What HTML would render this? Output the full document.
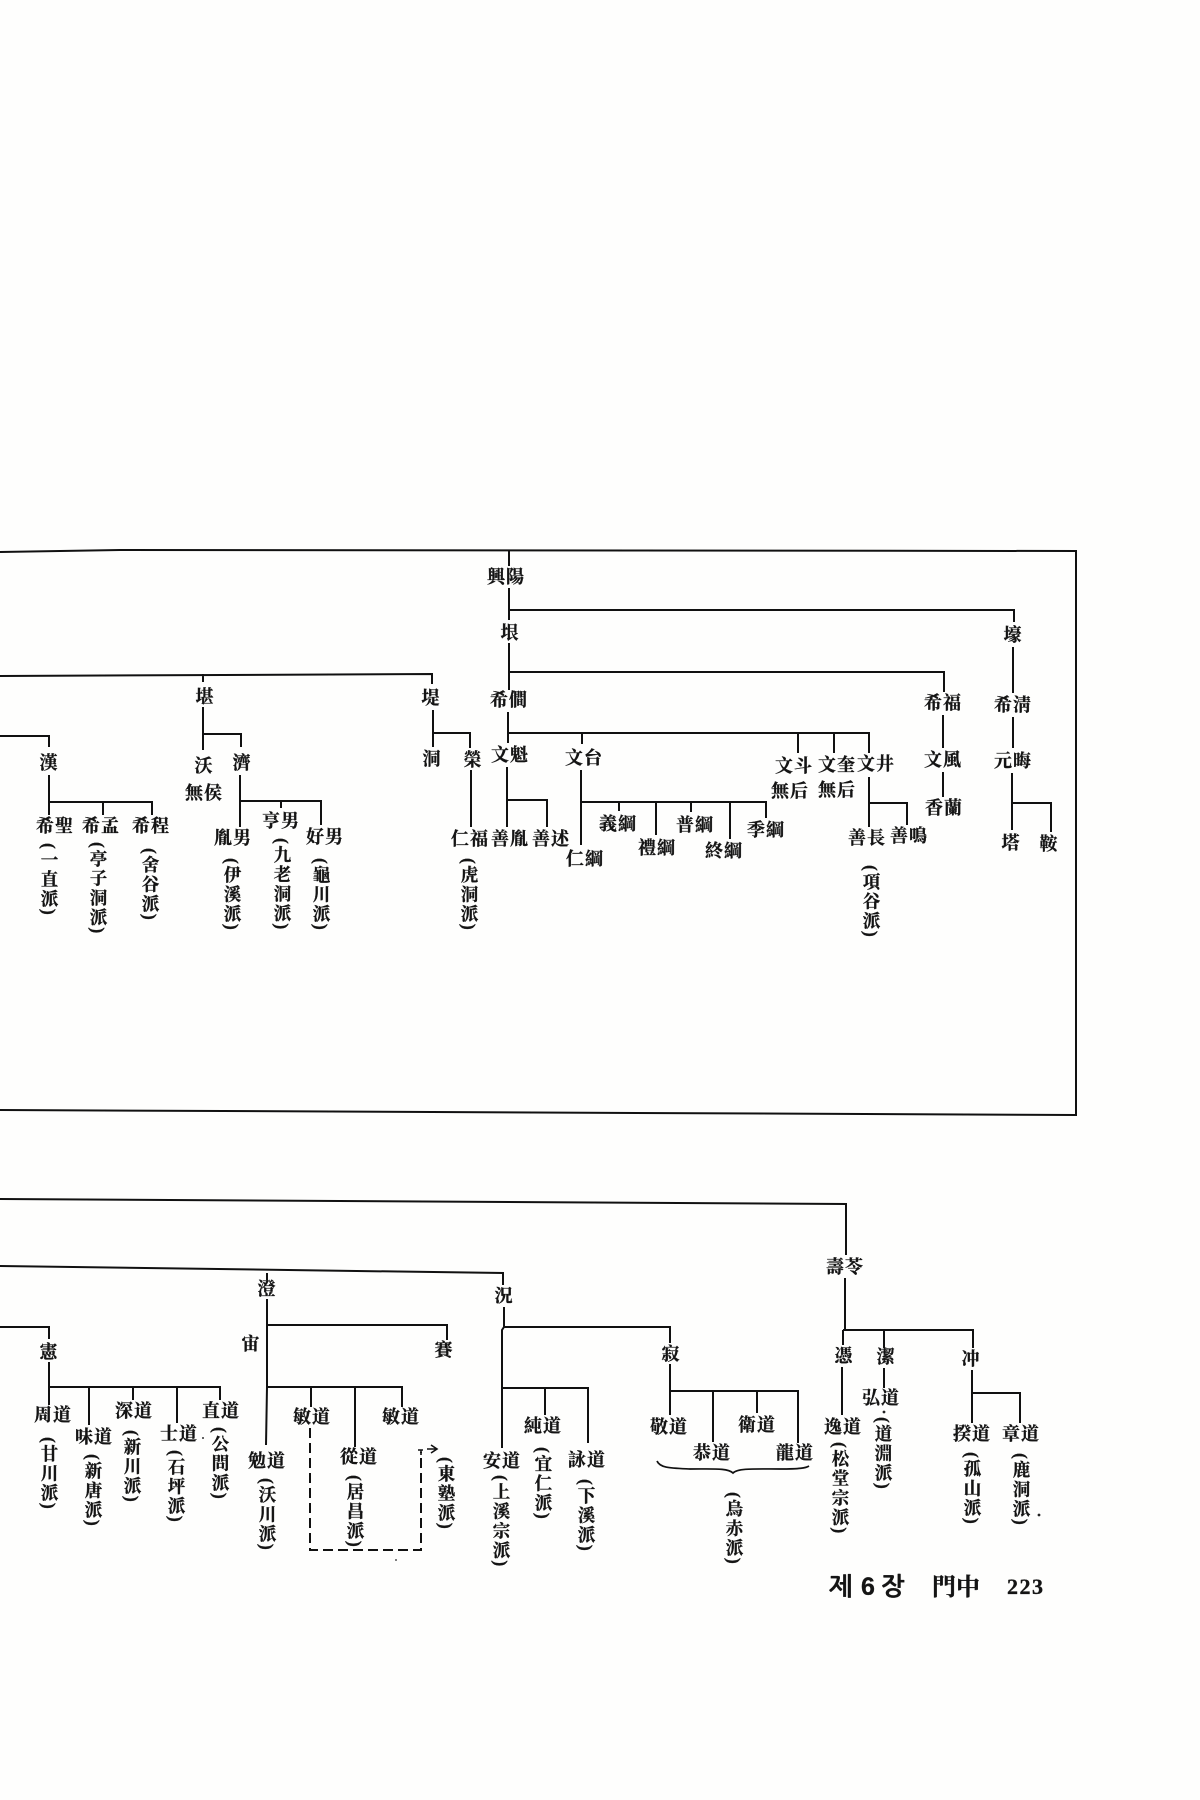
<!DOCTYPE html>
<html><head><meta charset="utf-8"><style>
html,body{margin:0;padding:0;background:#fefefd}
svg{display:block}
text{font-family:"Liberation Serif","Noto Serif CJK SC","Noto Serif CJK JP",serif;font-weight:700;font-size:18px;fill:#141414;stroke:#141414;stroke-width:.3}
.n{text-anchor:middle;letter-spacing:1px}
.v{writing-mode:vertical-rl;text-orientation:mixed;letter-spacing:1.9px;font-size:17.5px;font-weight:700}
path{fill:none;stroke:#111;stroke-width:2}
</style></head><body>
<svg width="1200" height="1800" viewBox="0 0 1200 1800" xmlns="http://www.w3.org/2000/svg">
<rect width="1200" height="1800" fill="#fefefd"/>
<!-- frame -->
<path d="M0 552L120 550L1076 551V1115L0 1110"/>
<!-- upper tree -->
<path d="M509 550V566M509 588V620M509 610H1014V622M509 643V690M509 672H944V692M508 712V743M508 733H869V753M582 733V744M798 733V753M834 733V753
M507 767V827M507 800H547V827M581 770V845M581 802H766V818M619 802V811M656 802V835M691 802V812M730 802V839
M869 777V827M869 803H907V825M943 715V748M943 772V797M1013 647V693M1013 717V748M1012 773V830M1012 803H1051V832
M0 676L432 674V684M203 674V682M203 707V750M203 734H241V747M240 775V827M240 801H321V825M281 801V808
M0 736H49V747M49 775V815M49 802H152V815M103 802V815M433 710V747M433 733H470V748M471 770V827"/>
<!-- upper labels -->
<g>
<text class="n" x="506" y="583">興陽</text>
<text class="n" x="510" y="639">垠</text>
<text class="n" x="1013" y="641">壕</text>
<text class="n" x="509" y="706">希僴</text>
<text class="n" x="943" y="709">希福</text>
<text class="n" x="1013" y="711">希淸</text>
<text class="n" x="510" y="761">文魁</text>
<text class="n" x="584" y="764">文台</text>
<text class="n" x="794" y="772">文斗</text>
<text class="n" x="837" y="771">文奎</text>
<text class="n" x="876" y="770">文井</text>
<text class="n" x="943" y="766">文風</text>
<text class="n" x="1013" y="767">元晦</text>
<text class="n" x="790" y="797">無后</text>
<text class="n" x="837" y="796">無后</text>
<text class="n" x="944" y="814">香蘭</text>
<text class="n" x="510" y="845">善胤</text>
<text class="n" x="551" y="845">善述</text>
<text class="n" x="585" y="865">仁綱</text>
<text class="n" x="618" y="830">義綱</text>
<text class="n" x="657" y="854">禮綱</text>
<text class="n" x="695" y="831">普綱</text>
<text class="n" x="724" y="857">終綱</text>
<text class="n" x="766" y="836">季綱</text>
<text class="n" x="867" y="844">善長</text>
<text class="n" x="909" y="842">善鳴</text>
<text class="n" x="1011" y="849">塔</text>
<text class="n" x="1049" y="850">鞍</text>
<text class="n" x="205" y="703">堪</text>
<text class="n" x="431" y="704">堤</text>
<text class="n" x="204" y="772">沃</text>
<text class="n" x="242" y="769">濟</text>
<text class="n" x="204" y="799">無侯</text>
<text class="n" x="233" y="844">胤男</text>
<text class="n" x="281" y="827">亨男</text>
<text class="n" x="325" y="843">好男</text>
<text class="n" x="49" y="769">漢</text>
<text class="n" x="55" y="832">希聖</text>
<text class="n" x="101" y="832">希孟</text>
<text class="n" x="151" y="832">希程</text>
<text class="n" x="432" y="765">洞</text>
<text class="n" x="473" y="766">榮</text>
<text class="n" x="470" y="845">仁福</text>
</g>
<text class="v" x="49" y="843">(一直派)</text>
<text class="v" x="98" y="842">(亭子洞派)</text>
<text class="v" x="150" y="848">(舍谷派)</text>
<text class="v" x="232" y="858">(伊溪派)</text>
<text class="v" x="282" y="838">(九老洞派)</text>
<text class="v" x="321" y="858">(龜川派)</text>
<text class="v" x="469" y="858">(虎洞派)</text>
<text class="v" x="871" y="865">(項谷派)</text>
<!-- lower tree -->
<path d="M0 1199L846 1204V1255M845 1278V1330M843 1330V1345M843 1330H973V1348M884 1330V1348M842 1367V1415M884 1368V1388M972 1370V1423M972 1393H1020V1423
M0 1266L503 1273V1285M267 1273V1280M267 1299V1387L266 1445M267 1325H447V1340M266 1387H402V1407M311 1387V1407M355 1387V1447
M0 1327H49V1339M49 1362V1405M49 1387H220V1400M89 1387V1425M133 1387V1400M177 1387V1423
M504 1307V1327L502 1330V1448M503 1327H670V1343M670 1364V1415M670 1391H798V1443M713 1391V1442M757 1391V1413M502 1388H588V1443M545 1388V1415"/>
<path stroke-dasharray="10 5" d="M310 1428V1550H421V1452"/>
<path style="stroke-width:1.6" d="M418 1450H423M421 1450V1455M427 1449H436M431 1445L437 1449L431 1453"/>
<path style="stroke-width:1.7" d="M657 1461C660 1468 670 1468 690 1469C715 1469 728 1468 733 1473C738 1468 755 1469 780 1469C800 1469 806 1468 809 1466"/>
<g>
<text class="n" x="845" y="1273">壽苓</text>
<text class="n" x="844" y="1362">憑</text>
<text class="n" x="886" y="1363">潔</text>
<text class="n" x="971" y="1365">冲</text>
<text class="n" x="843" y="1433">逸道</text>
<text class="n" x="881" y="1404">弘道</text>
<text class="n" x="972" y="1440">揆道</text>
<text class="n" x="1021" y="1440">章道</text>
<text class="n" x="267" y="1295">澄</text>
<text class="n" x="251" y="1350">宙</text>
<text class="n" x="444" y="1356">賽</text>
<text class="n" x="312" y="1423">敏道</text>
<text class="n" x="401" y="1423">敏道</text>
<text class="n" x="267" y="1467">勉道</text>
<text class="n" x="359" y="1463">從道</text>
<text class="n" x="49" y="1358">憲</text>
<text class="n" x="53" y="1421">周道</text>
<text class="n" x="94" y="1443">味道</text>
<text class="n" x="134" y="1417">深道</text>
<text class="n" x="179" y="1440">士道</text>
<text class="n" x="221" y="1417">直道</text>
<text class="n" x="504" y="1302">況</text>
<text class="n" x="671" y="1360">寂</text>
<text class="n" x="543" y="1432">純道</text>
<text class="n" x="502" y="1467">安道</text>
<text class="n" x="587" y="1466">詠道</text>
<text class="n" x="669" y="1433">敬道</text>
<text class="n" x="712" y="1459">恭道</text>
<text class="n" x="757" y="1431">衛道</text>
<text class="n" x="795" y="1459">龍道</text>
</g>
<text class="v" x="840" y="1442">(松堂宗派)</text>
<text class="v" x="883" y="1417">(道淵派)</text>
<text class="v" x="972" y="1452">(孤山派)</text>
<text class="v" x="1021" y="1453">(鹿洞派)</text>
<text class="v" x="267" y="1478">(沃川派)</text>
<text class="v" x="355" y="1475">(居昌派)</text>
<text class="v" x="446" y="1457">(東塾派)</text>
<text class="v" x="49" y="1437">(甘川派)</text>
<text class="v" x="93" y="1454">(新唐派)</text>
<text class="v" x="132" y="1430">(新川派)</text>
<text class="v" x="176" y="1450">(石坪派)</text>
<text class="v" x="220" y="1427">(公問派)</text>
<text class="v" x="543" y="1447">(宜仁派)</text>
<text class="v" x="501" y="1475">(上溪宗派)</text>
<text class="v" x="586" y="1479">(下溪派)</text>
<text class="v" x="734" y="1492">(烏赤派)</text>
<circle cx="884" cy="1412" r="1.4" fill="#222"/>
<circle cx="1039" cy="1515" r="1.4" fill="#222"/>
<circle cx="203" cy="1438" r="1" fill="#333"/>
<circle cx="396" cy="1560" r="1" fill="#555"/>
<!-- footer -->
<text x="829" y="1595" style="font-family:'Liberation Serif','NanumGothic',sans-serif;font-size:25px;font-weight:700">제</text>
<text x="861" y="1595" style="font-size:25px;font-weight:700;font-family:'Liberation Sans',sans-serif">6</text>
<text x="881" y="1595" style="font-family:'Liberation Serif','NanumGothic',sans-serif;font-size:25px;font-weight:700">장</text>
<text x="932" y="1595" style="font-size:24px;font-weight:700">門中</text>
<text x="1007" y="1594" style="font-size:22px;font-weight:700;letter-spacing:1.5px">223</text>
</svg>
</body></html>
